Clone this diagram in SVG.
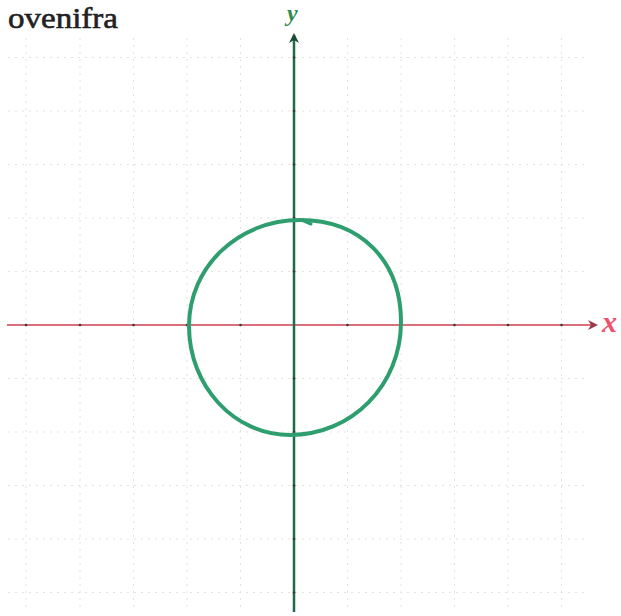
<svg xmlns="http://www.w3.org/2000/svg" width="621" height="616" viewBox="0 0 621 616">
<style>
.grid line{stroke:#e2e2e2;stroke-width:1;stroke-dasharray:2 5}
.tick{fill:#3a3a3a}
.lbl{font-family:"Liberation Serif","DejaVu Serif",serif;font-style:italic;font-weight:bold}
</style>
<defs>
<marker id="axr" viewBox="0 0 10 10" refX="8" refY="5" markerWidth="5" markerHeight="5" orient="auto" markerUnits="strokeWidth">
<path d="M0,0 L10,5 L0,10 L3,5 Z" fill="#9b3a4a"/>
</marker>
<marker id="axg" viewBox="0 0 10 10" refX="8" refY="5" markerWidth="4" markerHeight="4" orient="auto" markerUnits="strokeWidth">
<path d="M0,0 L10,5 L0,10 L3,5 Z" fill="#1d4a35"/>
</marker>
</defs>
<rect width="621" height="616" fill="#ffffff"/>
<g id="grid" class="grid">
<line x1="26" y1="38" x2="26" y2="610"/>
<line x1="80" y1="38" x2="80" y2="610"/>
<line x1="133.5" y1="38" x2="133.5" y2="610"/>
<line x1="187" y1="38" x2="187" y2="610"/>
<line x1="240.5" y1="38" x2="240.5" y2="610"/>
<line x1="347.5" y1="38" x2="347.5" y2="610"/>
<line x1="401" y1="38" x2="401" y2="610"/>
<line x1="454.5" y1="38" x2="454.5" y2="610"/>
<line x1="508" y1="38" x2="508" y2="610"/>
<line x1="561.5" y1="38" x2="561.5" y2="610"/>
<line x1="8" y1="57.5" x2="588" y2="57.5"/>
<line x1="8" y1="111" x2="588" y2="111"/>
<line x1="8" y1="164.5" x2="588" y2="164.5"/>
<line x1="8" y1="218" x2="588" y2="218"/>
<line x1="8" y1="271.5" x2="588" y2="271.5"/>
<line x1="8" y1="378.5" x2="588" y2="378.5"/>
<line x1="8" y1="432" x2="588" y2="432"/>
<line x1="8" y1="485.5" x2="588" y2="485.5"/>
<line x1="8" y1="539" x2="588" y2="539"/>
<line x1="8" y1="592.5" x2="588" y2="592.5"/>
</g>
<g id="connectors">
<line id="x-axis" x1="7" y1="325" x2="596" y2="325" stroke="#d9707a" stroke-width="2" marker-end="url(#axr)"/>
<line id="y-axis" x1="294" y1="612" x2="294" y2="35" stroke="#1f6b47" stroke-width="2.5" marker-end="url(#axg)"/>
</g>
<g id="ticks" class="tick">
<circle cx="26" cy="325" r="1.3"/><circle cx="80" cy="325" r="1.3"/><circle cx="133.5" cy="325" r="1.3"/><circle cx="187" cy="325" r="1.3"/><circle cx="240.5" cy="325" r="1.3"/><circle cx="347.5" cy="325" r="1.3"/><circle cx="401" cy="325" r="1.3"/><circle cx="454.5" cy="325" r="1.3"/><circle cx="508" cy="325" r="1.3"/><circle cx="561.5" cy="325" r="1.3"/>
<circle cx="294" cy="57.5" r="1.3"/><circle cx="294" cy="111" r="1.3"/><circle cx="294" cy="164.5" r="1.3"/><circle cx="294" cy="218" r="1.3"/><circle cx="294" cy="271.5" r="1.3"/><circle cx="294" cy="378.5" r="1.3"/><circle cx="294" cy="432" r="1.3"/><circle cx="294" cy="485.5" r="1.3"/><circle cx="294" cy="539" r="1.3"/><circle cx="294" cy="592.5" r="1.3"/>
</g>
<g id="curve" fill="none" stroke="#2e9e6e" stroke-width="4" stroke-linecap="round" stroke-linejoin="round">
<path d="M300,220 C361,220 401,261 401,322 C401,385 352,435 290,435 C234,435 189,386 189,326 C189,267 238,220 300,220 Z"/>
<path d="M304,221 L311,224" stroke-width="3"/>
</g>
<g id="labels">
<text x="8" y="28" font-family="Liberation Serif,DejaVu Serif,serif" font-size="30" fill="#222222" stroke="#222222" stroke-width="0.6" textLength="110" lengthAdjust="spacingAndGlyphs">ovenifra</text>
<text class="lbl" x="287" y="21" font-size="24" fill="#2e8b4f">y</text>
<text class="lbl" x="602" y="332" font-size="30" fill="#f0506e">x</text>
</g>
</svg>
